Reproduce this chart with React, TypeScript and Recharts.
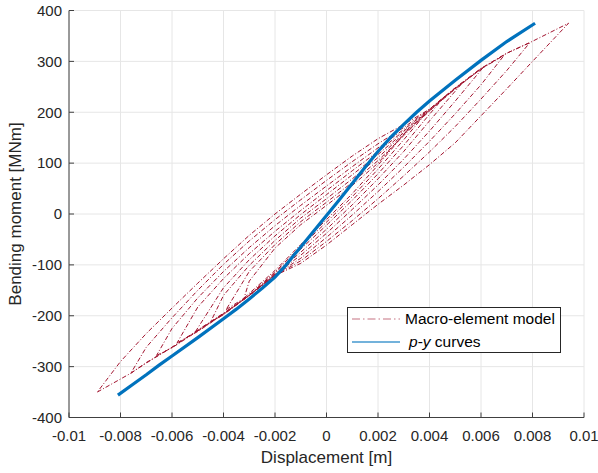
import React from "react";
import { CartesianGrid, Legend, Line, LineChart, XAxis, YAxis } from "recharts";

type Pt = [number, number];

const xTicks = [-0.01, -0.008, -0.006, -0.004, -0.002, 0, 0.002, 0.004, 0.006, 0.008, 0.01];
const yTicks = [-400, -300, -200, -100, 0, 100, 200, 300, 400];

// p-y curves (backbone, loading and unloading overlap)
const pyCurve: Pt[] = [
  [-0.0081, -356], [-0.0075, -334], [-0.007, -316], [-0.0065, -297], [-0.006, -279], [-0.005, -243],
  [-0.004, -206], [-0.0035, -187], [-0.003, -167], [-0.0025, -146], [-0.002, -124], [-0.0016, -102],
  [-0.0013, -83], [-0.001, -65], [-0.0005, -34], [0, -3], [0.0005, 28], [0.001, 60], [0.0015, 92],
  [0.002, 123], [0.0025, 151], [0.003, 176], [0.0035, 200], [0.004, 222], [0.005, 263], [0.006, 302],
  [0.007, 339], [0.0081, 375],
];

// macro-element model cycles: reloading branch then unloading branch
const cycle1: Pt[] = [
  [-0.0089, -350], [-0.0076, -313], [-0.007, -292], [-0.006, -262], [-0.005, -228], [-0.004, -195],
  [-0.003, -160], [-0.002, -121], [-0.001, -97], [0, -61], [0.001, -21], [0.002, 19], [0.003, 57],
  [0.004, 97], [0.005, 140], [0.006, 193], [0.007, 246], [0.008, 300], [0.0094, 375],
  [0.0079, 337], [0.007, 316], [0.006, 286], [0.005, 248], [0.004, 206], [0.003, 176], [0.002, 148],
  [0.001, 114], [0, 77], [-0.001, 39], [-0.002, 0], [-0.003, -42], [-0.004, -88], [-0.005, -136],
  [-0.006, -185], [-0.007, -235], [-0.008, -290], [-0.0089, -350],
];
const cycle2: Pt[] = [
  [-0.0076, -313], [-0.007, -293], [-0.006, -262], [-0.005, -229], [-0.004, -196], [-0.003, -160],
  [-0.002, -121], [-0.001, -92], [0, -54], [0.001, -13], [0.002, 30], [0.003, 75], [0.004, 122],
  [0.005, 172], [0.006, 226], [0.007, 282], [0.0079, 337],
  [0.007, 316], [0.006, 286], [0.005, 248], [0.004, 206], [0.003, 170], [0.002, 138], [0.001, 103],
  [0, 66], [-0.001, 28], [-0.002, -11], [-0.003, -53], [-0.004, -99], [-0.005, -150], [-0.006, -204],
  [-0.007, -262], [-0.0076, -313],
];
const cycle3: Pt[] = [
  [-0.0066, -278], [-0.006, -263], [-0.005, -230], [-0.004, -196], [-0.003, -160], [-0.002, -120],
  [-0.001, -87], [0, -46], [0.001, -2], [0.002, 44], [0.003, 92], [0.004, 143], [0.005, 197],
  [0.006, 254], [0.0069, 312],
  [0.006, 285], [0.005, 247], [0.004, 205], [0.003, 166], [0.002, 130], [0.001, 93], [0, 55],
  [-0.001, 17], [-0.002, -23], [-0.003, -66], [-0.004, -113], [-0.005, -165], [-0.006, -225], [-0.0066, -278],
];
const cycle4: Pt[] = [
  [-0.0058, -253], [-0.005, -231], [-0.004, -197], [-0.003, -160], [-0.002, -119], [-0.001, -81],
  [0, -38], [0.001, 9], [0.002, 57], [0.003, 108], [0.004, 163], [0.005, 222], [0.0061, 289],
  [0.005, 246], [0.004, 204], [0.003, 163], [0.002, 123], [0.001, 85], [0, 46], [-0.001, 7],
  [-0.002, -34], [-0.003, -78], [-0.004, -127], [-0.005, -183], [-0.0058, -253],
];
const cycle5: Pt[] = [
  [-0.0051, -232], [-0.004, -197], [-0.003, -160], [-0.002, -118], [-0.001, -75], [0, -30],
  [0.001, 18], [0.002, 69], [0.003, 123], [0.004, 183], [0.0053, 259],
  [0.005, 246], [0.004, 203], [0.003, 160], [0.002, 117], [0.001, 77], [0, 38], [-0.001, -1],
  [-0.002, -43], [-0.003, -90], [-0.004, -145], [-0.0051, -232],
];
const cycle6: Pt[] = [
  [-0.0045, -212], [-0.004, -198], [-0.003, -160], [-0.002, -116], [-0.001, -69], [0, -22],
  [0.001, 27], [0.002, 79], [0.003, 135], [0.004, 196], [0.0046, 232],
  [0.004, 202], [0.003, 157], [0.002, 111], [0.001, 69], [0, 30], [-0.001, -8], [-0.002, -52],
  [-0.003, -101], [-0.004, -160], [-0.0045, -212],
];
const cycle7: Pt[] = [
  [-0.0039, -188], [-0.003, -159], [-0.002, -114], [-0.001, -64], [0, -16], [0.001, 34],
  [0.002, 88], [0.003, 146], [0.0039, 200],
  [0.003, 154], [0.002, 105], [0.001, 62], [0, 23], [-0.001, -15], [-0.002, -60], [-0.003, -113], [-0.0039, -188],
];
const cycle8: Pt[] = [
  [-0.0032, -165], [-0.002, -111], [-0.001, -60], [0, -11], [0.001, 40], [0.002, 96], [0.003, 156], [0.0032, 168],
  [0.002, 100], [0.001, 56], [0, 17], [-0.001, -21], [-0.002, -67], [-0.003, -132], [-0.0032, -165],
];

const cycles = [cycle1, cycle2, cycle3, cycle4, cycle5, cycle6, cycle7, cycle8];

const RED = "#A2142F";
const BLUE = "#0072BD";
const FONT = '"Liberation Sans", Arial, Helvetica, sans-serif';
const DASH = "4.5 2 1 2";

const toPts = (a: Pt[]) => a.map(([x, y]) => ({ x, y }));

const renderLegend = () => (
  <div
    style={{
      width: 212,
      height: 44,
      border: "1px solid #262626",
      background: "#fff",
      position: "relative",
      fontFamily: FONT,
      fontSize: 15.5,
      color: "#000",
    }}
  >
    <div style={{ position: "absolute", left: 4, top: 0, height: 21, display: "flex", alignItems: "center", whiteSpace: "nowrap" }}>
      <svg width={48} height={4} style={{ display: "block" }}>
        <line x1={0} y1={2} x2={48} y2={2} stroke={RED} strokeOpacity={0.6} strokeWidth={1.2} strokeDasharray="8 3 1.5 3" />
      </svg>
      <span style={{ marginLeft: 5 }}>Macro-element model</span>
    </div>
    <div style={{ position: "absolute", left: 4, top: 23, height: 21, display: "flex", alignItems: "center", whiteSpace: "nowrap" }}>
      <svg width={48} height={4} style={{ display: "block" }}>
        <line x1={0} y1={2} x2={48} y2={2} stroke={BLUE} strokeOpacity={0.55} strokeWidth={2} />
      </svg>
      <span style={{ marginLeft: 9 }}>
        <i>p</i>-<i>y</i> curves
      </span>
    </div>
  </div>
);

export default function App() {
  return (
    <div style={{ position: "relative", width: 598, height: 473 }}>
      <style>{`body{margin:0;overflow:hidden;background:#fff}`}</style>
      <LineChart width={598} height={473} margin={{ top: 10.5, right: 14, left: 0, bottom: 0 }}>
        <CartesianGrid stroke="#e6e6e6" strokeWidth={1} />
        <XAxis
          type="number"
          dataKey="x"
          domain={[-0.01, 0.01]}
          ticks={xTicks}
          interval={0}
          tickFormatter={(v: number) => String(v)}
          height={55.5}
          tickSize={-5}
          tickMargin={18}
          stroke="#404040"
          tick={{ fill: "#262626", fontSize: 15, fontFamily: FONT }}
          label={{ value: "Displacement [m]", position: "insideBottom", offset: 10, fill: "#262626", fontSize: 17, fontFamily: FONT }}
        />
        <YAxis
          type="number"
          domain={[-400, 400]}
          ticks={yTicks}
          interval={0}
          width={69}
          tickSize={-5}
          tickMargin={12}
          stroke="#404040"
          tick={{ fill: "#262626", fontSize: 15, fontFamily: FONT }}
          label={{
            value: "Bending moment [MNm]",
            angle: -90,
            position: "insideLeft",
            offset: 15,
            fill: "#262626",
            fontSize: 17,
            fontFamily: FONT,
            style: { textAnchor: "middle" },
          }}
        />
        {cycles.map((c, i) => (
          <Line
            key={i}
            data={toPts(c)}
            dataKey="y"
            type="linear"
            stroke={RED}
            strokeWidth={1}
            strokeDasharray={DASH}
            dot={false}
            activeDot={false}
            legendType="none"
            isAnimationActive={false}
          />
        ))}
        <Line
          data={toPts(pyCurve)}
          dataKey="y"
          type="linear"
          stroke={BLUE}
          strokeWidth={3.2}
          dot={false}
          activeDot={false}
          isAnimationActive={false}
        />
        <Legend
          layout="horizontal"
          verticalAlign="middle"
          align="center"
          content={renderLegend}
          wrapperStyle={{ position: "absolute", left: 347, top: 307, width: 214, height: 46 }}
        />
      </LineChart>
    </div>
  );
}
